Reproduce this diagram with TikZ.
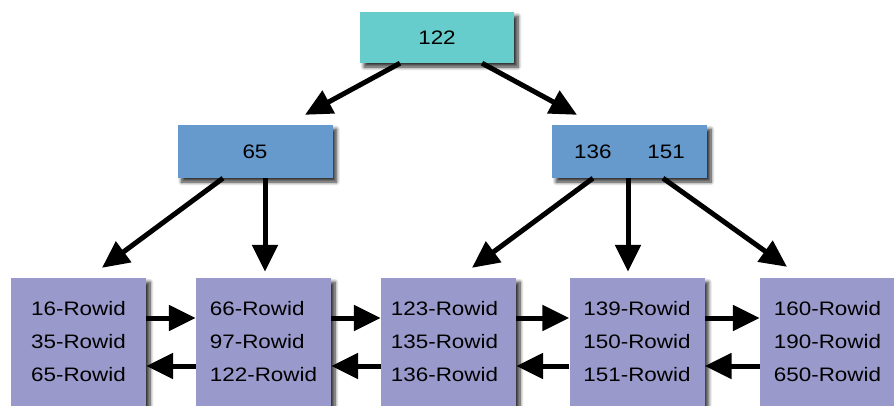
\documentclass[tikz,border=0pt]{standalone}
\usepackage{fontspec}
\setmainfont{Liberation Sans}[FakeStretch=1.15]
\usetikzlibrary{arrows.meta,shadows.blur}

\definecolor{rootfill}{RGB}{102,204,204}
\definecolor{innerfill}{RGB}{102,153,204}
\definecolor{leaffill}{RGB}{153,153,204}

\tikzset{
  shade box/.style={blur shadow={shadow xshift=4pt, shadow yshift=-4pt,
      shadow blur radius=3.5pt, shadow blur steps=8, shadow opacity=80}},
  rootbox/.style={shade box, fill=rootfill, minimum width=154pt, minimum height=51pt,
      inner sep=0pt, font=\fontsize{19.5}{23}\selectfont},
  innerbox/.style={shade box, fill=innerfill, minimum width=155pt, minimum height=53pt,
      inner sep=0pt, font=\fontsize{19.5}{23}\selectfont},
  leafbox/.style={shade box, fill=leaffill, minimum width=135pt, minimum height=140pt,
      inner sep=0pt},
  leaftext/.style={align=left, inner sep=0pt, font=\fontsize{19.5}{33}\selectfont},
  arr/.style={line width=5pt, -{Triangle[length=27pt,width=25pt]}},
}

\begin{document}
\begin{tikzpicture}[x=1pt,y=-1pt]
\useasboundingbox (0,0) rectangle (894,405);

% index levels
\node[rootbox]  (root) at (437,37.5)   {122};
\node[innerbox] (n65)  at (255,151.5)  {65};
\node[innerbox] (n136) at (629.5,151.5) {136\hspace{36pt}151};

% leaf blocks
\node[leafbox] (l1) at (78.5,348)  {};
\node[leafbox] (l2) at (263.5,348) {};
\node[leafbox] (l3) at (448.5,348) {};
\node[leafbox] (l4) at (637,348)   {};
\node[leafbox] (l5) at (827.5,348) {};

\node[leaftext] (t1) at ([yshift=6pt]l1.center) {16-Rowid\\35-Rowid\\65-Rowid};
\node[leaftext] (t2) at ([yshift=6pt]l2.center) {66-Rowid\\97-Rowid\\122-Rowid};
\node[leaftext] (t3) at ([xshift=-4pt,yshift=6pt]l3.center) {123-Rowid\\135-Rowid\\136-Rowid};
\node[leaftext] (t4) at ([yshift=6pt]l4.center) {139-Rowid\\150-Rowid\\151-Rowid};
\node[leaftext] (t5) at ([yshift=6pt]l5.center) {160-Rowid\\190-Rowid\\650-Rowid};

% tree pointers
\draw[arr] ([xshift=-37pt]root.south) -- ([xshift=50pt,yshift=10pt]n65.north);
\draw[arr] ([xshift=45pt]root.south)  -- ([xshift=-52.5pt,yshift=10pt]n136.north);
\draw[arr] ([xshift=-32pt]n65.south)  -- ([xshift=23.5pt,yshift=10pt]l1.north);
\draw[arr] ([xshift=10pt]n65.south)   -- ([xshift=1.5pt,yshift=6pt]l2.north);
\draw[arr] ([xshift=-36.5pt]n136.south) -- ([xshift=23.5pt,yshift=10pt]l3.north);
\draw[arr] ([xshift=-1.5pt]n136.south)  -- ([xshift=-9pt,yshift=6pt]l4.north);
\draw[arr] ([xshift=33.5pt]n136.south)  -- ([xshift=-40.5pt,yshift=11pt]l5.north);

% sibling links
\foreach \a/\b in {l1/l2,l2/l3,l3/l4,l4/l5}{
  \draw[arr] ([yshift=30pt]\a.east) -- ([yshift=30pt]\b.west);
  \draw[arr] ([yshift=-18pt]\b.west) -- ([yshift=-18pt]\a.east);
}
\end{tikzpicture}
\end{document}
